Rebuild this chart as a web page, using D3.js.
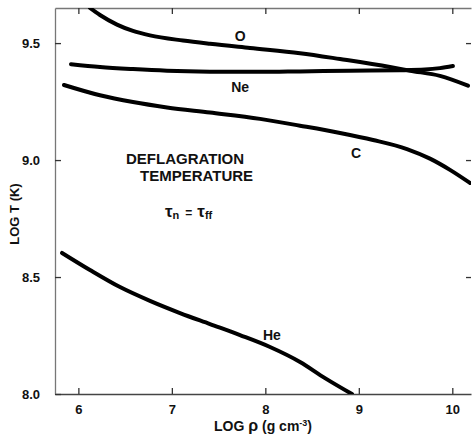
<!DOCTYPE html>
<html>
<head>
<meta charset="utf-8">
<script src="https://cdn.jsdelivr.net/npm/d3@7"></script>
<style>
  body { margin: 0; background: #fff; }
  svg { display: block; }
  text { font-family: "Liberation Sans", Arial, Helvetica, sans-serif; font-weight: bold; fill: #111; }
</style>
</head>
<body>
<svg id="chart" width="472" height="442"></svg>
<script>
// Data (log rho, log T)
const xTicks = [6, 7, 8, 9, 10];
const yTicks = [8.0, 8.5, 9.0, 9.5];

const oCurve = [[6.124, 9.650], [6.231, 9.620], [6.413, 9.579], [6.584, 9.552], [6.766, 9.533],
  [7.119, 9.511], [7.408, 9.497], [7.836, 9.479], [8.371, 9.457], [8.799, 9.432],
  [9.333, 9.398], [9.547, 9.382], [9.868, 9.360], [10.168, 9.318]];
const neCurve = [[5.921, 9.410], [6.231, 9.398], [6.584, 9.389], [6.948, 9.382], [7.408, 9.378],
  [7.943, 9.377], [8.371, 9.379], [8.906, 9.382], [9.440, 9.384], [9.708, 9.387],
  [9.868, 9.393], [10.007, 9.402]];
const cCurve = [[5.846, 9.321], [6.231, 9.277], [6.584, 9.248], [6.948, 9.225], [7.408, 9.203],
  [7.943, 9.176], [8.371, 9.147], [8.799, 9.116], [9.152, 9.086], [9.515, 9.047],
  [9.761, 9.006], [9.975, 8.958], [10.189, 8.902]];
const heCurve = [[5.825, 8.603], [6.124, 8.530], [6.445, 8.457], [6.766, 8.398], [7.087, 8.346],
  [7.408, 8.299], [7.729, 8.252], [8.050, 8.201], [8.371, 8.137], [8.638, 8.068],
  [8.927, 8.000]];

const curves = [
  { name: "O", points: oCurve, label: [7.73, 9.509] },
  { name: "Ne", points: neCurve, label: [7.73, 9.291] },
  { name: "C", points: cCurve, label: [8.97, 9.009] },
  { name: "He", points: heCurve, label: [8.07, 8.231] }
];

const svg = d3.select("#chart");
const m = { left: 55, right: 471, top: 8, bottom: 394 };

const x = d3.scaleLinear().domain([5.75, 10.2]).range([m.left, m.right]);
const y = d3.scaleLinear().domain([8.0, 9.65]).range([m.bottom, m.top]);

// clip so lines stop at the frame
svg.append("clipPath").attr("id", "plot")
  .append("rect").attr("x", m.left).attr("y", m.top)
  .attr("width", m.right - m.left).attr("height", m.bottom - m.top);

// axes, ticks pointing inward
const axisStyle = (g) => {
  g.selectAll(".domain").attr("stroke", "#444").attr("stroke-width", 1.3);
  g.selectAll(".tick line").attr("stroke", "#333").attr("stroke-width", 1.3);
  g.selectAll(".tick text")
    .style("font-size", "13px")
    .style("font-family", "'Liberation Sans', Arial, sans-serif")
    .style("font-weight", "bold")
    .attr("fill", "#111");
};

svg.append("g")
  .attr("transform", `translate(0,${m.bottom})`)
  .call(d3.axisBottom(x).tickValues(xTicks).tickFormat(d3.format("d")).tickSizeInner(-6).tickSizeOuter(0).tickPadding(11))
  .call(axisStyle);

svg.append("g")
  .attr("transform", `translate(0,${m.top})`)
  .call(d3.axisTop(x).tickValues(xTicks).tickFormat("").tickSizeInner(-6).tickSizeOuter(0))
  .call(axisStyle)
  .call(g => g.selectAll(".domain").attr("stroke", "#777"));

svg.append("g")
  .attr("transform", `translate(${m.left},0)`)
  .call(d3.axisLeft(y).tickValues(yTicks).tickFormat(d3.format(".1f")).tickSizeInner(-6).tickSizeOuter(0).tickPadding(15))
  .call(axisStyle)
  .call(g => g.selectAll(".domain").attr("stroke", "#777"));

svg.append("g")
  .attr("transform", `translate(${m.right},0)`)
  .call(d3.axisRight(y).tickValues(yTicks.filter(d => d > 8)).tickFormat("").tickSizeInner(-5).tickSizeOuter(0))
  .call(axisStyle)
  .call(g => g.selectAll(".domain").attr("stroke", "none"));

// curves
const line = d3.line()
  .x(d => x(d[0]))
  .y(d => y(d[1]))
  .curve(d3.curveMonotoneX);

svg.append("g").attr("clip-path", "url(#plot)")
  .selectAll("path")
  .data(curves)
  .join("path")
  .attr("d", d => line(d.points))
  .attr("fill", "none")
  .attr("stroke", "#000")
  .attr("stroke-width", 4)
  .attr("stroke-linecap", "round");

// curve labels
svg.selectAll(".clabel")
  .data(curves)
  .join("text")
  .attr("class", "clabel")
  .attr("x", d => x(d.label[0]))
  .attr("y", d => y(d.label[1]))
  .attr("text-anchor", "middle")
  .style("font-size", "14px")
  .text(d => d.name);

// annotation
svg.append("text").attr("x", 126).attr("y", 164).style("font-size", "15px").text("DEFLAGRATION");
svg.append("text").attr("x", 140).attr("y", 181).style("font-size", "15px").text("TEMPERATURE");

const tau = svg.append("text").attr("x", 165).attr("y", 217).style("font-size", "17px");
tau.append("tspan").text("τ");
tau.append("tspan").attr("dy", 2).style("font-size", "11px").text("n");
tau.append("tspan").attr("dy", -2).attr("dx", 6).style("font-size", "12px").text("=");
tau.append("tspan").attr("dx", 5).text("τ");
tau.append("tspan").attr("dy", 2).style("font-size", "11px").text("ff");

// axis titles
const xt = svg.append("text").attr("x", 263).attr("y", 431).attr("text-anchor", "middle").style("font-size", "14px");
xt.append("tspan").text("LOG ");
xt.append("tspan").style("font-size", "16px").text("ρ");
xt.append("tspan").text(" (g cm");
xt.append("tspan").attr("dy", -5).style("font-size", "9px").text("-3");
xt.append("tspan").attr("dy", 5).text(")");

svg.append("text")
  .attr("transform", "translate(19,214) rotate(-90)")
  .attr("text-anchor", "middle")
  .style("font-size", "13px")
  .text("LOG T (K)");
</script>
</body>
</html>
